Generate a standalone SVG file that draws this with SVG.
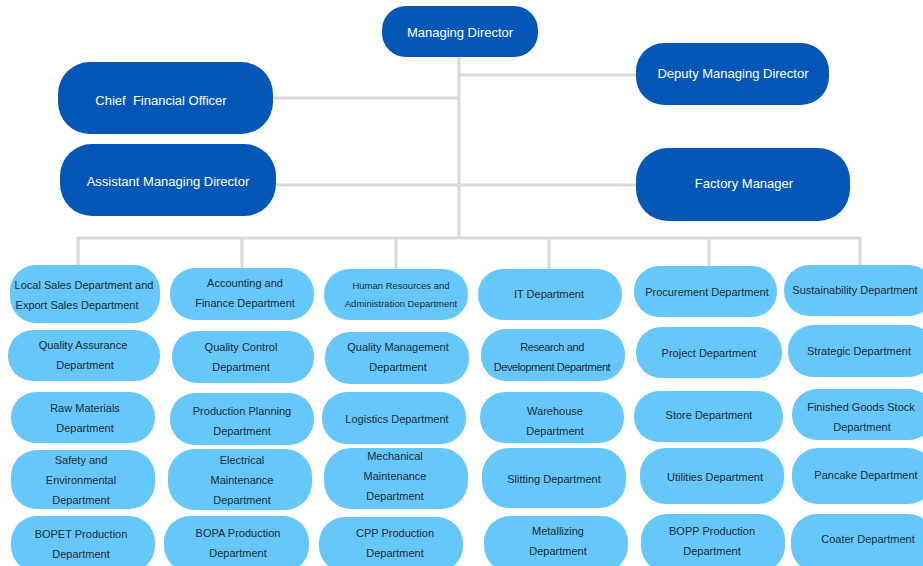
<svg xmlns="http://www.w3.org/2000/svg" width="923" height="566" viewBox="0 0 923 566">
<style>
.top rect{fill:#0457B7}
.top text{fill:#fff;font-family:"Liberation Sans",Arial,sans-serif;font-size:13px;text-anchor:middle;dominant-baseline:central}
.dept rect{fill:#65C7FA}
.dept text{fill:#1f2a33;font-family:"Liberation Sans",Arial,sans-serif;font-size:11px;text-anchor:middle;dominant-baseline:central}
.small text{font-size:9.5px}
#connectors line{stroke:#D9D9D9;stroke-width:3}
</style>
<rect width="923" height="566" fill="#fff"/>
<g id="connectors">
<line x1="459" y1="57" x2="459" y2="238"/>
<line x1="459" y1="75" x2="636" y2="75"/>
<line x1="273" y1="98" x2="459" y2="98"/>
<line x1="276" y1="185" x2="636" y2="185"/>
<line x1="77" y1="238" x2="861" y2="238"/>
<line x1="78" y1="237" x2="78" y2="266"/>
<line x1="242" y1="237" x2="242" y2="269"/>
<line x1="396" y1="237" x2="396" y2="269"/>
<line x1="549" y1="237" x2="549" y2="269"/>
<line x1="709" y1="237" x2="709" y2="267"/>
<line x1="860" y1="237" x2="860" y2="266"/>
</g>
<g id="managing-director" class="top"><rect x="382" y="6" width="156" height="51" rx="24"/><text x="460" y="32" font-size="14">Managing Director</text></g>
<g id="deputy-md" class="top"><rect x="636" y="43" width="193" height="62" rx="28"/><text x="733" y="73">Deputy Managing Director</text></g>
<g id="cfo" class="top"><rect x="58" y="62" width="215" height="72" rx="32"/><text x="161" y="100">Chief&#160; Financial Officer</text></g>
<g id="amd" class="top"><rect x="60" y="144" width="216" height="72" rx="32"/><text x="168" y="181">Assistant Managing Director</text></g>
<g id="factory-manager" class="top"><rect x="636" y="148" width="214" height="73" rx="32"/><text x="744" y="183">Factory Manager</text></g>

<g id="local-sales" class="dept"><rect x="10" y="265" width="150" height="58" rx="26"/><text x="84" y="285">Local Sales Department and</text><text x="77" y="305">Export Sales Department</text></g>
<g id="quality-assurance" class="dept"><rect x="8" y="330" width="152" height="51" rx="25"/><text x="83" y="345">Quality Assurance</text><text x="85" y="365">Department</text></g>
<g id="raw-materials" class="dept"><rect x="11" y="392" width="144" height="51" rx="25"/><text x="85" y="408">Raw Materials</text><text x="85" y="428">Department</text></g>
<g id="safety" class="dept"><rect x="11" y="450" width="144" height="59" rx="26"/><text x="81" y="460">Safety and</text><text x="81" y="480">Environmental</text><text x="81" y="500">Department</text></g>
<g id="bopet" class="dept"><rect x="11" y="516" width="144" height="56" rx="26"/><text x="81" y="534">BOPET Production</text><text x="81" y="554">Department</text></g>

<g id="accounting" class="dept"><rect x="170" y="268" width="144" height="52" rx="25"/><text x="245" y="283">Accounting and</text><text x="245" y="303">Finance Department</text></g>
<g id="quality-control" class="dept"><rect x="172" y="331" width="142" height="52" rx="25"/><text x="241" y="347">Quality Control</text><text x="241" y="367">Department</text></g>
<g id="production-planning" class="dept"><rect x="170" y="393" width="144" height="52" rx="25"/><text x="242" y="411">Production Planning</text><text x="242" y="431">Department</text></g>
<g id="electrical" class="dept"><rect x="168" y="449" width="144" height="61" rx="27"/><text x="242" y="460">Electrical</text><text x="242" y="480">Maintenance</text><text x="242" y="500">Department</text></g>
<g id="bopa" class="dept"><rect x="164" y="516" width="145" height="56" rx="26"/><text x="238" y="533">BOPA Production</text><text x="238" y="553">Department</text></g>

<g id="hr" class="dept small"><rect x="324" y="269" width="144" height="51" rx="25"/><text x="401" y="285">Human Resources and</text><text x="401" y="303">Administration Department</text></g>
<g id="quality-management" class="dept"><rect x="325" y="332" width="144" height="52" rx="25"/><text x="398" y="347">Quality Management</text><text x="398" y="367">Department</text></g>
<g id="logistics" class="dept"><rect x="322" y="392" width="144" height="52" rx="25"/><text x="397" y="419">Logistics Department</text></g>
<g id="mechanical" class="dept"><rect x="324" y="448" width="144" height="61" rx="27"/><text x="395" y="456">Mechanical</text><text x="395" y="476">Maintenance</text><text x="395" y="496">Department</text></g>
<g id="cpp" class="dept"><rect x="319" y="517" width="144" height="55" rx="26"/><text x="395" y="533">CPP Production</text><text x="395" y="553">Department</text></g>

<g id="it" class="dept"><rect x="478" y="269" width="144" height="51" rx="25"/><text x="549" y="294">IT Department</text></g>
<g id="rnd" class="dept"><rect x="481" y="329" width="144" height="52" rx="25"/><text x="552" y="347" letter-spacing="-0.4">Research and</text><text x="552" y="367" letter-spacing="-0.4">Development Department</text></g>
<g id="warehouse" class="dept"><rect x="480" y="392" width="144" height="51" rx="25"/><text x="555" y="411">Warehouse</text><text x="555" y="431">Department</text></g>
<g id="slitting" class="dept"><rect x="482" y="448" width="144" height="60" rx="27"/><text x="554" y="479">Slitting Department</text></g>
<g id="metallizing" class="dept"><rect x="484" y="516" width="144" height="56" rx="26"/><text x="558" y="531">Metallizing</text><text x="558" y="551">Department</text></g>

<g id="procurement" class="dept"><rect x="634" y="266" width="143" height="51" rx="25"/><text x="707" y="292">Procurement Department</text></g>
<g id="project" class="dept"><rect x="636" y="327" width="146" height="51" rx="25"/><text x="709" y="353">Project Department</text></g>
<g id="store" class="dept"><rect x="634" y="391" width="149" height="51" rx="25"/><text x="709" y="415">Store Department</text></g>
<g id="utilities" class="dept"><rect x="640" y="448" width="144" height="56" rx="26"/><text x="715" y="477">Utilities Department</text></g>
<g id="bopp" class="dept"><rect x="641" y="514" width="144" height="58" rx="26"/><text x="712" y="531">BOPP Production</text><text x="712" y="551">Department</text></g>

<g id="sustainability" class="dept"><rect x="784" y="265" width="150" height="51" rx="25"/><text x="855" y="290">Sustainability Department</text></g>
<g id="strategic" class="dept"><rect x="788" y="325" width="146" height="52" rx="25"/><text x="859" y="351">Strategic Department</text></g>
<g id="finished-goods" class="dept"><rect x="792" y="389" width="142" height="51" rx="25"/><text x="861" y="407">Finished Goods Stock</text><text x="862" y="427">Department</text></g>
<g id="pancake" class="dept"><rect x="792" y="448" width="142" height="56" rx="26"/><text x="866" y="475">Pancake Department</text></g>
<g id="coater" class="dept"><rect x="791" y="514" width="143" height="58" rx="26"/><text x="868" y="539">Coater Department</text></g>
</svg>
